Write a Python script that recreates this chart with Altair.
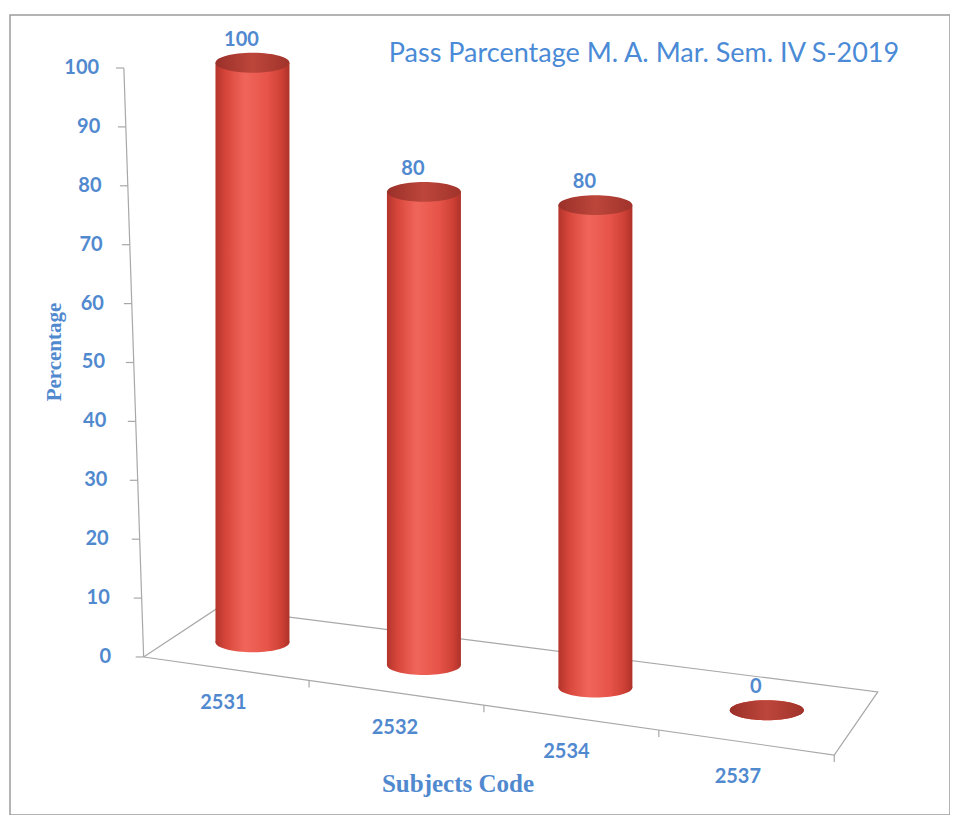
import altair as alt
import pandas as pd

# ---------------- data ----------------
codes = ["2531", "2532", "2534", "2537"]
pass_pct = [100, 80, 80, 0]
y_ticks = [0, 10, 20, 30, 40, 50, 60, 70, 80, 90, 100]
chart_title = "Pass Parcentage M. A. Mar. Sem. IV S-2019"
y_title = "Percentage"
x_title = "Subjects Code"

# ---------------- style / layout ----------------
BLUE = "#5189cf"
FONT = "Lato"
SERIF = "Liberation Serif"
GRID = "#a8a8a8"

W, H = 940, 800
X_DOM = [-1.385, 4.039]
Y_DOM = [-26.83, 109.0]
PX_I = W / (X_DOM[1] - X_DOM[0])
PX_V = H / (Y_DOM[1] - Y_DOM[0])

xs = alt.Scale(domain=X_DOM, nice=False, zero=False)
ys = alt.Scale(domain=Y_DOM, nice=False, zero=False)


def X(f):
    return alt.X(f, type="quantitative", scale=xs, axis=None)


def Y(f):
    return alt.Y(f, type="quantitative", scale=ys, axis=None)


# perspective helpers (pseudo-3D floor)
def axis_x(v):  # slanted y-axis line
    return (140 - 0.2 * v - 250) / PX_I


def label_x(v):
    return (107 - 0.12 * v - 250) / PX_I


bars = pd.DataFrame({"code": codes, "pct": pass_pct})
bars["pos"] = range(len(codes))
bars["base"] = 2.5 - 3.85 * bars["pos"]
bars["top"] = bars["base"] + bars["pct"] * (0.984 + 0.02 * bars["pos"])
bars["lab_y"] = -7.8 - 4.2 * bars["pos"]

# floor quadrilateral
floor = pd.DataFrame({
    "i": [-0.635, -0.202, 3.647, 3.393, -0.635],
    "v": [0, 8.32, -5.94, -16.64, 0],
    "o": [0, 1, 2, 3, 4],
})

ft = pd.DataFrame({"t": [0.33, 1.35, 2.37, 3.393]})
ft["v"] = -(ft["t"] + 0.635) * 4.131
ft["v2"] = ft["v"] - 7 / PX_V

yt = pd.DataFrame({"v": y_ticks})
yt["x"] = yt["v"].apply(axis_x)
yt["x2"] = yt["x"] - 8 / PX_I
yt["lx"] = yt["v"].apply(label_x)
yt["lab"] = yt["v"].astype(str)

yline = pd.DataFrame({"v": [min(y_ticks)], "v2": [max(y_ticks)]})
yline["x"] = axis_x(min(y_ticks))
yline["x2"] = axis_x(max(y_ticks))

# ---------------- gradients ----------------
body_grad = alt.Gradient(
    gradient="linear", x1=0, x2=1, y1=0, y2=0,
    stops=[
        alt.GradientStop(offset=0, color="#b3342b"),
        alt.GradientStop(offset=0.15, color="#d9473c"),
        alt.GradientStop(offset=0.4, color="#f0655a"),
        alt.GradientStop(offset=0.7, color="#e75449"),
        alt.GradientStop(offset=0.9, color="#cc3f34"),
        alt.GradientStop(offset=1, color="#ad3229"),
    ],
)
top_grad = alt.Gradient(
    gradient="linear", x1=0, x2=1, y1=0, y2=0,
    stops=[
        alt.GradientStop(offset=0, color="#9a3029"),
        alt.GradientStop(offset=0.5, color="#bd463b"),
        alt.GradientStop(offset=1, color="#a0332b"),
    ],
)

ELLIPSE = ("M -1 0 C -1 -0.149 -0.552 -0.27 0 -0.27 C 0.552 -0.27 1 -0.149 1 0 "
           "C 1 0.149 0.552 0.27 0 0.27 C -0.552 0.27 -1 0.149 -1 0 Z")
BW = 74

# ---------------- layers ----------------
floor_l = alt.Chart(floor).mark_line(color=GRID, strokeWidth=1.2).encode(
    x=X("i"), y=Y("v"), order="o:Q")

ft_l = alt.Chart(ft).mark_rule(color=GRID, strokeWidth=1.2).encode(
    x=X("t"), y=Y("v"), y2="v2")

yline_l = alt.Chart(yline).mark_rule(color=GRID, strokeWidth=1.2).encode(
    x=X("x"), x2="x2", y=Y("v"), y2="v2")

ytick_l = alt.Chart(yt).mark_rule(color=GRID, strokeWidth=1.2).encode(
    x=X("x"), x2="x2", y=Y("v"))

ylab_l = alt.Chart(yt).mark_text(
    align="right", baseline="middle", font=FONT, fontSize=20,
    fontWeight="bold", color=BLUE).encode(x=X("lx"), y=Y("v"), text="lab:N")

bottom_l = alt.Chart(bars).mark_point(
    shape=ELLIPSE, size=BW * BW, filled=True, color=body_grad,
    opacity=1, strokeWidth=0).encode(x=X("pos"), y=Y("base"))

body_l = alt.Chart(bars).mark_bar(size=BW, color=body_grad).encode(
    x=X("pos"), y=Y("top"), y2="base")

top_l = alt.Chart(bars).mark_point(
    shape=ELLIPSE, size=BW * BW, filled=True, color=top_grad,
    opacity=1, strokeWidth=0).encode(x=X("pos"), y=Y("top"))

val_l = alt.Chart(bars).mark_text(
    font=FONT, fontSize=20, fontWeight="bold", color=BLUE,
    dx=-11, dy=-23, baseline="middle").encode(
    x=X("pos"), y=Y("top"), text="pct:Q")

xlab_l = alt.Chart(bars).mark_text(
    font=FONT, fontSize=20, fontWeight="bold", color=BLUE,
    dx=-29, baseline="middle").encode(
    x=X("pos"), y=Y("lab_y"), text="code:N")

ttl = pd.DataFrame({"t": [chart_title]})
title_l = alt.Chart(ttl).mark_text(
    font=FONT, fontSize=27, color="#4a8ad6", align="center",
    baseline="alphabetic").encode(text="t:N", x=alt.value(634), y=alt.value(47))

yt_df = pd.DataFrame({"t": [y_title]})
ytitle_l = alt.Chart(yt_df).mark_text(
    font=SERIF, fontSize=21, fontWeight="bold", color=BLUE, angle=270,
    align="center", baseline="middle").encode(
    text="t:N", x=alt.value(45), y=alt.value(337))

xt_df = pd.DataFrame({"t": [x_title]})
xtitle_l = alt.Chart(xt_df).mark_text(
    font=SERIF, fontSize=25, fontWeight="bold", color=BLUE,
    align="center", baseline="alphabetic").encode(
    text="t:N", x=alt.value(448), y=alt.value(777))

chart = alt.layer(
    floor_l, ft_l, yline_l, ytick_l, ylab_l,
    bottom_l, body_l, top_l, val_l, xlab_l,
    title_l, ytitle_l, xtitle_l,
).properties(
    width=W, height=H,
    autosize=alt.AutoSizeParams(type="none"),
    padding={"left": 2, "top": 7, "right": 0, "bottom": 0},
    background="white",
).configure_view(stroke="#9c9c9c", strokeWidth=1.5)

chart.save("out.html", embed_options={"renderer": "svg", "actions": False})
